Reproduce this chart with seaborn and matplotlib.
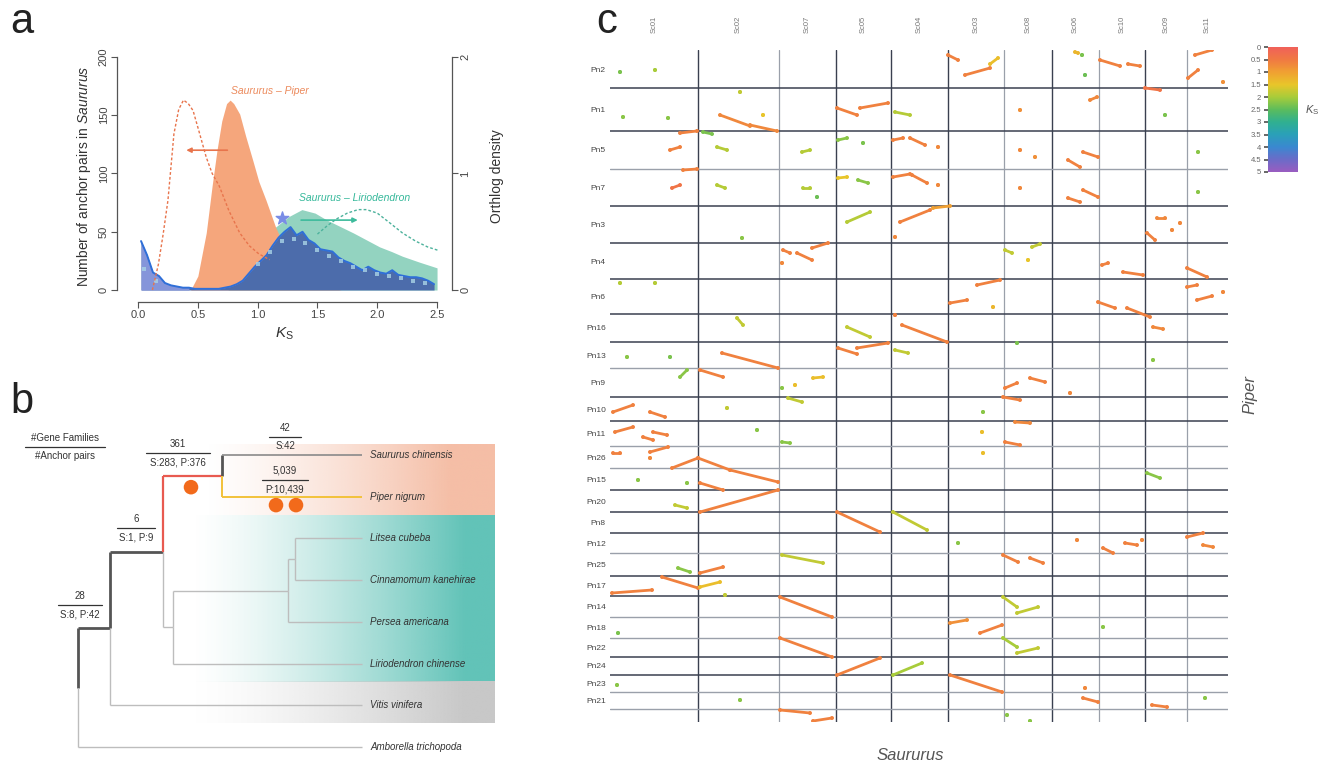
import numpy as np
import pandas as pd
import matplotlib
matplotlib.use("Agg")
import matplotlib.pyplot as plt
from matplotlib.colors import LinearSegmentedColormap, Normalize, to_rgb
from matplotlib.cm import ScalarMappable
import seaborn as sns

sns.set_theme(style="white")
plt.rcParams['font.family'] = ['Liberation Sans', 'DejaVu Sans']
plt.rcParams['mathtext.fontset'] = 'custom'
plt.rcParams['mathtext.it'] = 'Liberation Sans:italic'
plt.rcParams['mathtext.rm'] = 'Liberation Sans'

# ---------------- Panel a data ----------------
hist_binwidth = 0.05
hist_counts = [42, 30, 15, 12, 6, 4, 3, 2, 2, 1, 1, 1, 1, 1, 2, 3, 5, 8, 14, 20,
               25, 30, 38, 45, 50, 54, 47, 50, 43, 40, 35, 34, 33, 28, 25, 23, 20, 17, 20, 17,
               15, 14, 17, 13, 12, 11, 11, 10, 8, 5]
fit_ks = [0.05, 0.15, 1.00, 1.10, 1.20, 1.30, 1.40, 1.50, 1.60, 1.70, 1.80, 1.90, 2.00, 2.10, 2.20, 2.30, 2.40]
fit_vals = [18, 8, 22, 33, 42, 44, 40, 34, 29, 25, 20, 17, 14, 12, 10, 8, 6]

sp_ks = [0.44, 0.50, 0.57, 0.62, 0.66, 0.70, 0.74, 0.77, 0.80, 0.85, 0.90, 0.96, 1.01, 1.07, 1.15, 1.22, 1.30, 1.40, 1.50, 1.60, 1.70]
sp_val = [0, 12, 49, 90, 120, 145, 160, 163, 160, 151, 132, 111, 93, 77, 54, 38, 24, 12, 6, 2, 0]
pn_ks = [0.12, 0.17, 0.21, 0.25, 0.30, 0.34, 0.38, 0.42, 0.46, 0.51, 0.57, 0.62, 0.68, 0.76, 0.85, 0.93, 1.01, 1.10]
pn_val = [0, 22, 48, 77, 134, 155, 163, 160, 154, 136, 114, 100, 89, 68, 49, 38, 31, 26]
sl_ks = [0.75, 0.85, 0.95, 1.05, 1.15, 1.26, 1.37, 1.48, 1.58, 1.70, 1.80, 1.91, 2.02, 2.12, 2.21, 2.35, 2.50]
sl_val = [0, 5, 18, 38, 54, 63, 69, 66, 60, 54, 49, 43, 37, 33, 29, 24, 19]
lc_ks = [1.50, 1.58, 1.66, 1.75, 1.84, 1.91, 2.00, 2.10, 2.21, 2.32, 2.42, 2.51]
lc_val = [48, 55, 61, 66, 69, 69, 66, 58, 49, 42, 37, 34]
star_ks, star_val = 1.20, 62

# ---------------- Panel b data ----------------
tips = ["Saururus chinensis", "Piper nigrum", "Litsea cubeba", "Cinnamomum kanehirae",
        "Persea americana", "Liriodendron chinense", "Vitis vinifera", "Amborella trichopoda"]
node_depth = {"root": 0, "A": 32, "B": 85, "Piperales": 144, "Laurales": 95,
              "LaurIn": 210, "LitCin": 217}
tip_depth = 284
children = {"root": ["A", "Amborella trichopoda"], "A": ["B", "Vitis vinifera"],
            "B": ["Piperales", "Laurales"], "Piperales": ["Saururus chinensis", "Piper nigrum"],
            "Laurales": ["LaurIn", "Liriodendron chinense"], "LaurIn": ["LitCin", "Persea americana"],
            "LitCin": ["Litsea cubeba", "Cinnamomum kanehirae"]}
edge_style = {"A": ("#555555", 2.0), "B": ("#555555", 2.0), "Piperales": ("#e85a50", 1.6),
              "Saururus chinensis": ("#8a8a8a", 1.2), "Piper nigrum": ("#f2c23a", 1.4)}
ann_x = [-13, 100, 207, 207, 58, 2]
ann_y = [-0.19, -0.05, -0.43, 0.60, 1.75, 3.60]
ann_top = ["#Gene Families", "361", "42", "5,039", "6", "28"]
ann_bot = ["#Anchor pairs", "S:283, P:376", "S:42", "P:10,439", "S:1, P:9", "S:8, P:42"]
ann_hw = [40, 32, 16, 23, 19, 22]
dot_x = [113, 198, 218]
dot_y = [0.77, 1.2, 1.2]

# ---------------- Panel c data ----------------
sau_names = ["Sc01", "Sc02", "Sc07", "Sc05", "Sc04", "Sc03", "Sc08", "Sc06", "Sc10", "Sc09", "Sc11"]
sau_len = [88, 81, 57, 55, 57, 56, 48, 47, 46, 42, 41]
pip_names = ["Pn2", "Pn1", "Pn5", "Pn7", "Pn3", "Pn4", "Pn6", "Pn16", "Pn13", "Pn9", "Pn10", "Pn11",
             "Pn26", "Pn15", "Pn20", "Pn8", "Pn12", "Pn25", "Pn17", "Pn14", "Pn18", "Pn22", "Pn24",
             "Pn23", "Pn21", ""]
pip_len = [38, 43, 38, 37, 37, 36, 35, 28, 26, 29, 24, 25, 22, 22, 22, 21, 20, 23, 20, 21, 21, 19, 18, 17, 17, 13]
vline_dark = [1, 0, 1, 1, 1, 0, 1, 0, 1, 0]
hline_dark = [1, 1, 0, 1, 1, 1, 1, 1, 0, 1, 1, 0, 0, 1, 1, 1, 0, 1, 1, 0, 0, 1, 1, 0, 0]

segs = [
    (10, 22, 10, 22, 2.3), (45, 20, 45, 20, 2.0), (338, 5, 348, 10, 0.6), (355, 25, 380, 18, 0.6),
    (380, 14, 388, 8, 1.4), (465, 2, 468, 3, 1.3), (472, 5, 472, 5, 2.3), (490, 10, 510, 16, 0.6),
    (518, 14, 530, 16, 0.6), (585, 5, 602, 0, 0.6), (578, 28, 588, 20, 0.6), (613, 32, 613, 32, 0.8),
    (475, 25, 475, 25, 2.4),
    (110, 65, 140, 76, 0.7), (140, 75, 167, 81, 0.7), (153, 65, 153, 65, 1.5), (227, 58, 247, 65, 0.6),
    (250, 58, 278, 53, 0.6), (285, 62, 300, 65, 1.9), (13, 67, 13, 67, 2.2), (58, 68, 58, 68, 2.2),
    (130, 42, 130, 42, 1.8), (410, 60, 410, 60, 0.8), (480, 50, 487, 47, 0.7), (535, 38, 550, 40, 0.4),
    (555, 65, 555, 65, 2.3),
    (70, 83, 87, 81, 0.6), (60, 100, 70, 97, 0.6), (93, 82, 102, 84, 2.3), (107, 97, 117, 100, 1.9),
    (192, 102, 200, 100, 1.9), (228, 90, 237, 88, 2.2), (253, 93, 253, 93, 2.3), (283, 90, 293, 88, 0.6),
    (300, 88, 315, 95, 0.6), (328, 97, 328, 97, 0.7), (410, 100, 410, 100, 0.7), (425, 107, 425, 107, 0.8),
    (458, 110, 470, 117, 0.6), (473, 102, 488, 107, 0.6), (588, 102, 588, 102, 2.2),
    (73, 120, 87, 119, 0.6), (62, 138, 70, 135, 0.4), (107, 135, 115, 138, 1.9), (193, 138, 200, 138, 1.9),
    (207, 147, 207, 147, 2.4), (228, 128, 237, 127, 1.5), (248, 130, 258, 133, 2.2), (283, 127, 300, 124, 0.6),
    (302, 125, 317, 133, 0.6), (328, 135, 328, 135, 0.7), (410, 138, 410, 138, 0.7), (458, 148, 470, 152, 0.6),
    (473, 140, 488, 147, 0.6), (588, 142, 588, 142, 2.2),
    (237, 172, 260, 162, 1.9), (290, 172, 320, 160, 0.6), (323, 158, 340, 156, 1.0), (285, 187, 285, 187, 0.7),
    (132, 188, 132, 188, 2.2), (537, 183, 545, 190, 0.6), (547, 168, 555, 168, 0.7), (562, 180, 562, 180, 0.7),
    (570, 173, 570, 173, 0.7),
    (173, 200, 180, 203, 0.6), (172, 213, 172, 213, 0.7), (187, 203, 202, 210, 0.6), (202, 198, 218, 193, 0.6),
    (395, 200, 402, 203, 1.8), (422, 197, 430, 194, 1.8), (418, 210, 418, 210, 1.5), (492, 215, 498, 213, 0.6),
    (513, 222, 533, 225, 0.6), (577, 218, 597, 227, 0.6),
    (10, 233, 10, 233, 1.9), (45, 233, 45, 233, 1.9), (340, 253, 357, 250, 0.6), (367, 235, 390, 230, 0.6),
    (383, 257, 383, 257, 1.3), (488, 252, 505, 258, 0.6), (517, 258, 540, 267, 0.6), (543, 277, 553, 279, 0.7),
    (577, 237, 587, 235, 0.6), (587, 250, 602, 246, 0.6), (613, 242, 613, 242, 0.7),
    (127, 268, 133, 275, 1.8), (237, 277, 260, 287, 1.8), (292, 275, 337, 292, 0.6), (285, 265, 285, 265, 0.6),
    (407, 293, 407, 293, 2.3),
    (17, 307, 17, 307, 2.2), (60, 307, 60, 307, 2.3), (112, 303, 168, 318, 0.6), (228, 298, 247, 304, 0.6),
    (247, 298, 278, 293, 0.6), (285, 300, 298, 303, 1.8), (543, 310, 543, 310, 2.2),
    (70, 327, 77, 320, 2.2), (90, 320, 113, 327, 0.6), (172, 338, 172, 338, 2.2), (185, 335, 185, 335, 1.4),
    (203, 328, 213, 327, 1.4), (178, 348, 192, 352, 1.8), (395, 338, 407, 333, 0.6), (420, 328, 435, 332, 0.6),
    (460, 343, 460, 343, 0.7), (393, 347, 410, 350, 0.6),
    (3, 362, 23, 355, 0.6), (40, 362, 55, 367, 0.6), (373, 362, 373, 362, 2.2), (405, 372, 420, 373, 0.7),
    (117, 358, 117, 358, 1.8),
    (5, 382, 23, 377, 0.6), (33, 387, 43, 390, 0.6), (43, 382, 57, 385, 0.6), (172, 392, 180, 393, 2.2),
    (372, 382, 372, 382, 1.4), (395, 392, 410, 395, 0.6), (147, 380, 147, 380, 2.2),
    (40, 402, 58, 397, 0.6), (3, 403, 10, 403, 0.6), (40, 408, 40, 408, 0.7), (62, 418, 88, 408, 0.6),
    (88, 408, 120, 420, 0.6), (373, 403, 373, 403, 1.4),
    (120, 420, 168, 432, 0.6), (90, 433, 113, 440, 0.6), (28, 430, 28, 430, 2.2), (77, 433, 77, 433, 2.2),
    (537, 423, 550, 428, 2.2),
    (90, 462, 168, 440, 0.6), (65, 455, 77, 458, 1.8),
    (227, 462, 270, 482, 0.6), (283, 462, 317, 480, 1.8), (348, 493, 348, 493, 2.2),
    (467, 490, 467, 490, 0.7), (493, 498, 503, 503, 0.6), (515, 493, 527, 495, 0.6), (532, 490, 532, 490, 0.7),
    (577, 487, 593, 483, 0.6), (593, 495, 603, 497, 0.7),
    (68, 518, 80, 522, 2.2), (90, 523, 113, 517, 0.6), (172, 505, 213, 513, 1.8), (393, 505, 408, 512, 0.6),
    (420, 508, 433, 513, 0.6),
    (2, 543, 42, 540, 0.6), (52, 527, 88, 538, 0.6), (90, 537, 110, 532, 1.4), (115, 545, 115, 545, 1.8),
    (170, 547, 222, 567, 0.6), (340, 573, 357, 570, 0.8), (370, 583, 392, 575, 0.6), (393, 547, 407, 557, 1.8),
    (407, 563, 428, 557, 1.8),
    (8, 583, 8, 583, 2.3), (493, 577, 493, 577, 2.2),
    (170, 588, 222, 607, 0.6), (393, 588, 407, 597, 2.0), (407, 603, 428, 598, 1.8),
    (227, 625, 270, 608, 0.6), (283, 625, 312, 613, 2.0),
    (7, 635, 7, 635, 2.2), (340, 625, 392, 642, 0.6), (475, 638, 475, 638, 0.7),
    (473, 648, 488, 652, 0.6), (542, 655, 557, 657, 0.6), (130, 650, 130, 650, 2.2), (595, 648, 595, 648, 2.2),
    (170, 660, 200, 663, 0.6), (203, 671, 222, 668, 0.6), (397, 665, 397, 665, 2.2), (420, 671, 420, 671, 2.2),
]

ks_colors = ['#f0605a', '#f07a42', '#f0a032', '#e8c62a', '#a8cc3a', '#5cbc5c',
             '#30b090', '#2aa0b8', '#3a88d0', '#6a6cc8', '#9a5cc0']
ks_cmap = LinearSegmentedColormap.from_list("ks", ks_colors)
cb_ticks = [0, 0.5, 1, 1.5, 2, 2.5, 3, 3.5, 4, 4.5, 5]
cb_labels = ["0", "0.5", "1", "1.5", "2", "2.5", "3", "3.5", "4", "4.5", "5"]

W, H = 1320, 767
fig = plt.figure(figsize=(W / 100, H / 100), dpi=100)


def box(x0, y0, x1, y1):
    return [x0 / W, 1 - y1 / H, (x1 - x0) / W, (y1 - y0) / H]


# ================= Panel a =================
ax = fig.add_axes(box(117, 50, 452, 302))
ax.fill_between(sl_ks, 0, sl_val, color='#93d3c0', lw=0, zorder=1)
ax.fill_between(sp_ks, 0, sp_val, color='#f5a67c', lw=0, zorder=2)
centers = np.arange(len(hist_counts)) * hist_binwidth + hist_binwidth / 2
hdf = pd.DataFrame({"ks": centers, "n": np.asarray(hist_counts, dtype=float)})
nlow = 9
sns.histplot(data=hdf, x="ks", weights="n", binwidth=hist_binwidth, binrange=(0, 2.5), element="poly",
             fill=True, color='#4c6cab', alpha=1, linewidth=0, ax=ax, zorder=3)
sns.histplot(data=hdf.iloc[:nlow], x="ks", weights="n", binwidth=hist_binwidth,
             binrange=(0, nlow * hist_binwidth), element="poly",
             fill=True, color='#8595da', alpha=1, linewidth=0, ax=ax, zorder=3.1)
sns.lineplot(data=hdf, x="ks", y="n", color='#2f6fd8', lw=1.4, ax=ax, zorder=4)
sns.lineplot(x=fit_ks, y=fit_vals, color='#a9d3e6', lw=0, marker='s', markersize=2.8, alpha=0.8,
             markeredgewidth=0, ax=ax, zorder=4.5)
sns.lineplot(x=pn_ks, y=pn_val, color='#e8744c', lw=1.0, linestyle=(0, (2, 1.5)), ax=ax, zorder=5)
sns.lineplot(x=lc_ks, y=lc_val, color='#4db29c', lw=1.0, linestyle=(0, (2, 1.5)), ax=ax, zorder=5)
ax.scatter([star_ks], [star_val], marker='*', s=90, color='#7a8de6', zorder=6)
ax.annotate("", xy=(0.38, 120), xytext=(0.77, 120),
            arrowprops=dict(arrowstyle='-|>', color='#e8744c', lw=1.2, mutation_scale=7), zorder=6)
ax.annotate("", xy=(1.86, 60), xytext=(1.34, 60),
            arrowprops=dict(arrowstyle='-|>', color='#3dbb9c', lw=1.2, mutation_scale=7), zorder=6)
ax.text(1.1, 171, "Saururus – Piper", color='#ec8a5c', fontsize=7.5, style='italic', ha='center', va='center')
ax.text(1.81, 79, "Saururus – Liriodendron", color='#35b89a', fontsize=7.5, style='italic',
        ha='center', va='center')
for s in ['top', 'right']:
    ax.spines[s].set_visible(False)
for s in ['left', 'bottom']:
    ax.spines[s].set_color('#555555')
    ax.spines[s].set_linewidth(0.9)
ax.spines['left'].set_bounds(0, 200)
ax.spines['bottom'].set_bounds(0, 2.5)
ax.set_xlim(-0.176, 2.625)
ax.set_ylim(-10.3, 206)
ax.set_xticks([0, 0.5, 1, 1.5, 2, 2.5])
ax.set_xticklabels(["0.0", "0.5", "1.0", "1.5", "2.0", "2.5"])
ax.set_yticks([0, 50, 100, 150, 200])
ax.set_yticklabels(["0", "50", "100", "150", "200"], rotation=90, va='center')
ax.tick_params(axis='both', which='both', direction='out', length=4, width=0.8, color='#555555',
               labelsize=8, labelcolor='#444444', left=True, bottom=True, pad=2)
ax.set_xlabel(r"$K_{\rm S}$", fontsize=11, color='#333333', labelpad=4)
ax.set_ylabel(r"Number of anchor pairs in $\it{Saururus}$", fontsize=10, color='#333333', labelpad=4)
ax.grid(False)

axr = ax.twinx()
axr.set_ylim(-0.103, 2.06)
for s in ['top', 'left', 'bottom']:
    axr.spines[s].set_visible(False)
axr.spines['right'].set_bounds(0, 2)
axr.spines['right'].set_color('#555555')
axr.spines['right'].set_linewidth(0.9)
axr.set_yticks([0, 1, 2])
axr.set_yticklabels(["0", "1", "2"], rotation=90, va='center')
axr.tick_params(axis='y', direction='out', length=4, width=0.8, color='#555555', labelsize=8,
                labelcolor='#444444', right=True, pad=2)
axr.set_ylabel("Orthlog density", fontsize=10, color='#333333', labelpad=14)
axr.grid(False)

# ================= Panel b =================
axb = fig.add_axes(box(0, 380, 560, 767))
axb.axis('off')


def grad_band(x0, x1, y0, y1, color, ramp, power):
    n = 300
    xs = np.linspace(0, 1, n)
    alpha = np.clip(xs / ramp, 0, 1) ** power
    rgba = np.zeros((2, n, 4))
    rgba[..., :3] = to_rgb(color)
    rgba[..., 3] = alpha
    axb.imshow(rgba, extent=(x0, x1, y1, y0), aspect='auto', zorder=0, interpolation='bilinear')


grad_band(127, 417, -0.24, 1.44, '#f5bea6', 0.85, 1.3)
grad_band(112, 417, 1.44, 5.44, '#62c3b8', 0.9, 1.4)
grad_band(112, 417, 5.44, 6.43, '#c8c8c8', 0.9, 1.4)

ypos = {t: i for i, t in enumerate(tips)}


def get_y(n):
    if n in ypos:
        return ypos[n]
    ys = [get_y(c) for c in children[n]]
    ypos[n] = np.mean(ys)
    return ypos[n]


get_y("root")
light = ('#bdbdbd', 1.0)
for n, ch in children.items():
    nx, ny = node_depth[n], ypos[n]
    for c in ch:
        col, lw = edge_style.get(c, light)
        cx = node_depth.get(c, tip_depth)
        cy = ypos[c]
        vcol, vlw = (('#555555', 2.0) if c == "Saururus chinensis" else (col, lw))
        axb.plot([nx, nx], [ny, cy], color=vcol, lw=vlw, solid_capstyle='butt', zorder=2)
        axb.plot([nx, cx], [cy, cy], color=col, lw=lw, solid_capstyle='butt', zorder=2)

for t in tips:
    axb.text(tip_depth + 8, ypos[t], t, style='italic', fontsize=7, color='#333333', va='center', ha='left')

for x, y, tt, bt, hw in zip(ann_x, ann_y, ann_top, ann_bot, ann_hw):
    axb.plot([x - hw, x + hw], [y, y], color='#333333', lw=0.9)
    axb.text(x, y - 0.1, tt, ha='center', va='bottom', fontsize=7, color='#333333')
    axb.text(x, y + 0.1, bt, ha='center', va='top', fontsize=7, color='#333333')
sns.scatterplot(x=dot_x, y=dot_y, s=110, color='#f26a1b', edgecolor='none', ax=axb, zorder=5)
axb.set_xlim(-78, 482)
axb.set_ylim(7.48, -1.8)

# ================= Panel c =================
axc = fig.add_axes(box(610, 50, 1228, 722))
xb = np.cumsum([0] + sau_len)
yb = np.cumsum([0] + pip_len)

rows = []
for i, (x0, y0, x1, y1, k) in enumerate(segs):
    rows.append((i, x0, y0, k))
    rows.append((i, x1, y1, k))
df = pd.DataFrame(rows, columns=["seg", "sx", "py", "ks"])
lines = df[df.groupby("seg")["sx"].transform(lambda v: v.max() - v.min()) > 0]
sns.lineplot(data=lines, x="sx", y="py", units="seg", estimator=None, hue="ks", palette=ks_cmap,
             hue_norm=(0, 5), legend=False, lw=2.0, sort=False, ax=axc, zorder=3)
sns.scatterplot(data=df, x="sx", y="py", hue="ks", palette=ks_cmap, hue_norm=(0, 5), legend=False,
                s=8, edgecolor='none', ax=axc, zorder=3)

for v, d in zip(xb[1:-1], vline_dark):
    axc.axvline(v, color='#3a4050' if d else '#9aa0aa', lw=1.0 if d else 0.9, zorder=1)
for h, d in zip(yb[1:-1], hline_dark):
    axc.axhline(h, color='#3a4050' if d else '#9aa0aa', lw=1.1 if d else 1.0, zorder=1)
axc.set_xlim(0, xb[-1])
axc.set_ylim(yb[-1], 0)
for s in axc.spines.values():
    s.set_visible(False)
axc.set_xticks((xb[:-1] + xb[1:]) / 2)
axc.set_xticklabels(sau_names, rotation=90, fontsize=5.5, color='#777777')
axc.xaxis.tick_top()
axc.set_yticks((yb[:-1] + yb[1:]) / 2)
axc.set_yticklabels(pip_names, fontsize=6, color='#444444')
axc.tick_params(axis='x', length=0, pad=12)
axc.tick_params(axis='y', length=0, pad=3)
axc.set_xlabel("")
axc.set_ylabel("")
axc.grid(False)

fig.text(910 / W, 1 - 755 / H, "Saururus", style='italic', fontsize=12, color='#555555', ha='center', va='center')
fig.text(1250 / W, 1 - 395 / H, "Piper", style='italic', fontsize=12, color='#555555', ha='center',
         va='center', rotation=90)

cax = fig.add_axes(box(1268, 47, 1298, 172))
cb = fig.colorbar(ScalarMappable(norm=Normalize(0, 5), cmap=ks_cmap), cax=cax)
cb.outline.set_visible(False)
cax.invert_yaxis()
cax.yaxis.set_ticks_position('left')
cb.set_ticks(cb_ticks)
cb.set_ticklabels(cb_labels)
cax.tick_params(labelsize=5.5, labelcolor='#666666', length=3, color='#555555', pad=2)
fig.text(1312 / W, 1 - 110 / H, r"$K_{\rm S}$", fontsize=8, color='#555555', ha='center', va='center')

# panel letters
fig.text(10 / W, 1 - 22 / H, "a", fontsize=30, color='#222222', va='center', ha='left')
fig.text(10 / W, 1 - 402 / H, "b", fontsize=30, color='#222222', va='center', ha='left')
fig.text(596 / W, 1 - 22 / H, "c", fontsize=30, color='#222222', va='center', ha='left')

fig.savefig("out.png", dpi=100)
